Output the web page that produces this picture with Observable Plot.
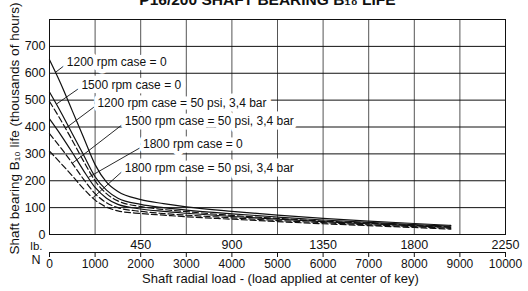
<!DOCTYPE html>
<html><head><meta charset="utf-8">
<script src="https://cdn.jsdelivr.net/npm/d3@7"></script>
<script src="https://cdn.jsdelivr.net/npm/@observablehq/plot@0.6"></script>
<style>body{margin:0;background:#fff}svg{display:block}</style>
</head><body><div id="chart"></div>
<script>
const titleText = "P16/200 SHAFT BEARING B₁₀ LIFE";
const yLabel = "Shaft bearing B₁₀ life (thousands of hours)";
const xLabel = "Shaft radial load - (load applied at center of key)";
const nTicks = [0,1000,2000,3000,4000,5000,6000,7000,8000,9000,10000];
const lbTicks = [450,900,1350,1800,2250];
const yTicks = [0,100,200,300,400,500,600,700];
const yGrid = [0,100,200,300,400,500,600,700,800];
const loads = [0,250,500,750,1000,1250,1500,2000,2500,3000,4000,5000,6000,7000,8000,8800];
const life1200_0  = [650,560,460,360,260,195,160,130,115,103,86,72,60,50,41,34];
const life1500_0  = [530,455,375,295,215,165,135,112,100,91,77,65,54,45,37,31];
const life1200_50 = [495,425,350,272,200,152,125,104,93,85,71,60,50,42,34,28];
const life1800_0  = [430,370,305,237,175,135,112,95,86,79,67,57,48,40,32,26];
const life1500_50 = [375,322,265,205,152,118,100,86,78,72,62,52,44,36,29,23];
const life1800_50 = [310,265,218,170,128,102,88,78,72,66,57,48,40,33,26,20];
const seriesNames = ["1200 rpm case = 0","1500 rpm case = 0","1200 rpm case = 50 psi, 3,4 bar","1500 rpm case = 50 psi, 3,4 bar","1800 rpm case = 0","1800 rpm case = 50 psi, 3,4 bar"];
const seriesValues = [life1200_0, life1500_0, life1200_50, life1500_50, life1800_0, life1800_50];
const seriesDashed = [false,false,true,true,false,true];
// annotation anchors (data units): label start, and load where the leader meets its curve
const labelN = [380,700,1050,1650,2050,1650];
const labelV = [640,555,488,420,335,246];
const leaderN = [130,150,350,500,850,950];

const interp = (vals, n) => {
  for (let i = 1; i < loads.length; i++) {
    if (n <= loads[i]) { const t = (n - loads[i-1])/(loads[i]-loads[i-1]); return vals[i-1] + t*(vals[i]-vals[i-1]); }
  }
  return vals[vals.length-1];
};
const curves = seriesValues.flatMap((vals, s) => vals.map((v, i) => ({s: seriesNames[s], dashed: seriesDashed[s], n: loads[i], v})));
const labels = seriesNames.map((name, i) => ({name, x: labelN[i], y: labelV[i], x2: leaderN[i], y2: interp(seriesValues[i], leaderN[i])}));

const chart = Plot.plot({
  width: 528, height: 291,
  marginLeft: 49, marginRight: 23, marginTop: 19, marginBottom: 57,
  style: {fontFamily: "'Liberation Sans', Arial, sans-serif", fontSize: "12px", color: "#111", background: "#fff"},
  x: {domain: [0,10000]},
  y: {domain: [0,800]},
  marks: [
    Plot.ruleX(nTicks, {stroke: "#555", strokeWidth: 1}),
    Plot.ruleY(yGrid, {stroke: "#111", strokeWidth: 1}),
    Plot.frame({stroke: "#111"}),
    Plot.line(curves.filter(d => !d.dashed), {x: "n", y: "v", z: "s", stroke: "#111", strokeWidth: 1.2, curve: "monotone-x"}),
    Plot.line(curves.filter(d => d.dashed), {x: "n", y: "v", z: "s", stroke: "#111", strokeWidth: 1.2, strokeDasharray: "6,3", curve: "monotone-x"}),
    Plot.link(labels, {x1: d => d.x - 60, y1: d => d.y - 12, x2: "x2", y2: "y2", stroke: "#111", strokeWidth: 0.9}),
    Plot.text(labels, {x: "x", y: "y", text: "name", textAnchor: "start", fontSize: 12, fill: "#111", stroke: "white", strokeWidth: 9}),
    Plot.axisY({ticks: yTicks, tickSize: 0, tickPadding: 4, label: null, fontSize: 12.5}),
    Plot.text(lbTicks, {x: d => d * 10000 / 2250, y: 0, dy: 10, text: d => String(d), fontSize: 12.5}),
    Plot.ruleY([0], {dy: 18, stroke: "#111"}),
    Plot.axisX({ticks: nTicks, tickSize: 5, tickPadding: 2, dy: 18, label: null, tickFormat: d3.format("d"), fontSize: 12}),
    Plot.text(["lb."], {frameAnchor: "bottom-left", dx: -7, dy: 15, textAnchor: "end", fontSize: 11.5}),
    Plot.text(["N"], {frameAnchor: "bottom-left", dx: -9, dy: 29, textAnchor: "end", fontSize: 12.5}),
    Plot.text([xLabel], {frameAnchor: "bottom", dx: 3, dy: 48, fontSize: 13}),
    Plot.text([yLabel], {frameAnchor: "left", dx: -35, dy: 1.5, rotate: -90, textAnchor: "middle", fontSize: 13.5}),
    Plot.text([titleText], {frameAnchor: "top", dx: -10, dy: -15, lineAnchor: "bottom", fontSize: 15.5, fontWeight: "bold"})
  ]
});
document.getElementById("chart").append(chart);
</script>
</body></html>
